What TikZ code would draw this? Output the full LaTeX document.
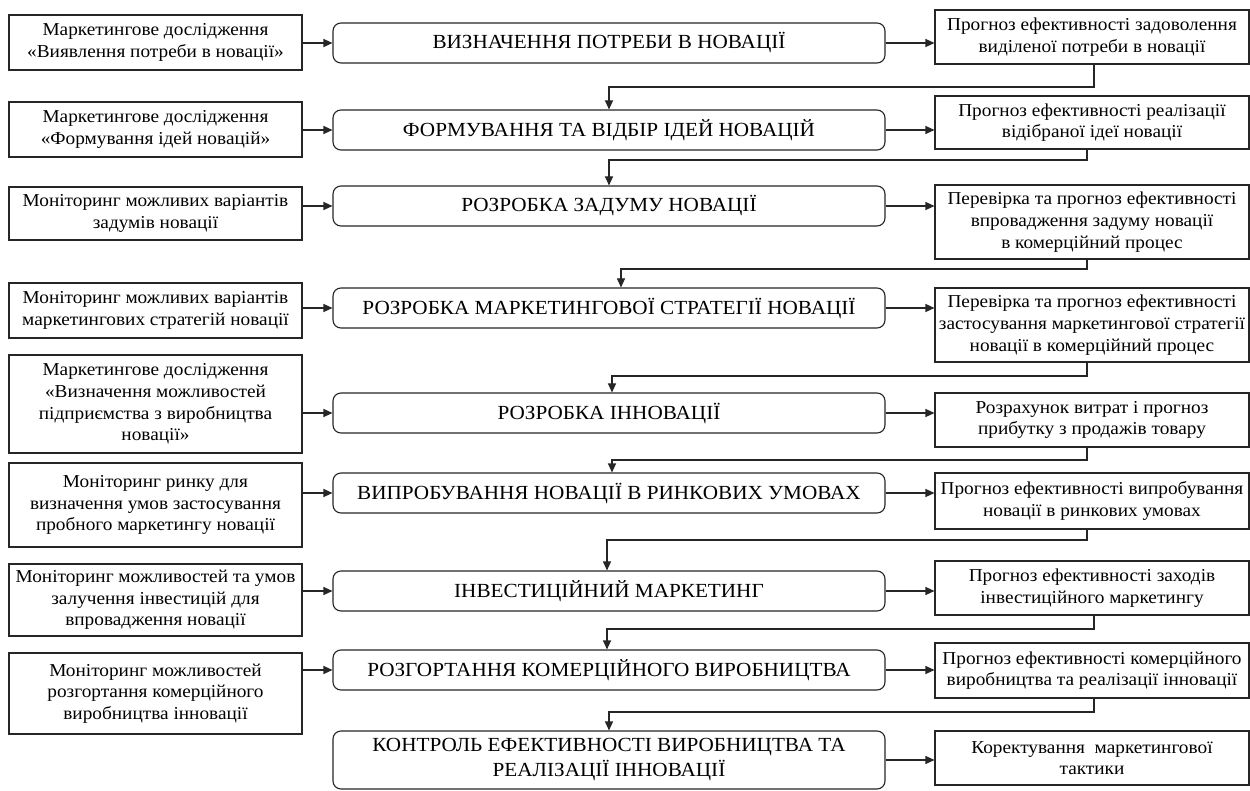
\documentclass[tikz,border=0pt]{standalone}
\usepackage{fontspec}
\setmainfont{Liberation Serif}[FakeStretch=1.06]
\usetikzlibrary{arrows.meta}
\begin{document}
\begin{tikzpicture}[x=1pt,y=-1pt,
  sbox/.style={draw=black!85, line width=1.1pt, align=center, inner sep=2pt,
    font=\fontsize{18.2}{21.7}\selectfont},
  lbox/.style={sbox, minimum width=293pt},
  rbox/.style={sbox, minimum width=314pt},
  cbox/.style={draw=black!85, line width=1.1pt, rounded corners=8pt, align=center,
    minimum width=552pt, minimum height=40pt, inner sep=2pt,
    font=\fontsize{20}{25}\selectfont},
  arr/.style={draw=black!85, line width=1.1pt, -{Triangle[length=9pt,width=8pt]}}]
\useasboundingbox (0,0) rectangle (1250,791);
\fill[white] (0,0) rectangle (1250,791);

% left boxes
\node[lbox, minimum height=55pt] (l1) at (155.5,42.5) {Маркетингове дослідження\\«Виявлення потреби в новації»};
\node[lbox, minimum height=55pt] (l2) at (155.5,129.5) {Маркетингове дослідження\\«Формування ідей новацій»};
\node[lbox, minimum height=53pt] (l3) at (155.5,213.5) {Моніторинг можливих варіантів\\задумів новації};
\node[lbox, minimum height=55pt] (l4) at (155.5,310.5) {Моніторинг можливих варіантів\\маркетингових стратегій новації};
\node[lbox, minimum height=98pt] (l5) at (155.5,404) {Маркетингове дослідження\\«Визначення можливостей\\підприємства з виробництва\\новації»};
\node[lbox, minimum height=84pt] (l6) at (155.5,505) {Моніторинг ринку для\\визначення умов застосування\\пробного маркетингу новації};
\node[lbox, minimum height=72pt] (l7) at (155.5,600) {Моніторинг можливостей та умов\\залучення інвестицій для\\впровадження новації};
\node[lbox, minimum height=81pt] (l8) at (155.5,693.5) {Моніторинг можливостей\\розгортання комерційного\\виробництва інновації};

% centre boxes
\node[cbox] (c1) at (609,43) {ВИЗНАЧЕННЯ ПОТРЕБИ В НОВАЦІЇ};
\node[cbox] (c2) at (609,130) {ФОРМУВАННЯ ТА ВІДБІР ІДЕЙ НОВАЦІЙ};
\node[cbox] (c3) at (609,206) {РОЗРОБКА ЗАДУМУ НОВАЦІЇ};
\node[cbox] (c4) at (609,308) {РОЗРОБКА МАРКЕТИНГОВОЇ СТРАТЕГІЇ НОВАЦІЇ};
\node[cbox] (c5) at (609,413) {РОЗРОБКА ІННОВАЦІЇ};
\node[cbox] (c6) at (609,493) {ВИПРОБУВАННЯ НОВАЦІЇ В РИНКОВИХ УМОВАХ};
\node[cbox] (c7) at (609,591) {ІНВЕСТИЦІЙНИЙ МАРКЕТИНГ};
\node[cbox] (c8) at (609,670) {РОЗГОРТАННЯ КОМЕРЦІЙНОГО ВИРОБНИЦТВА};
\node[cbox, minimum height=58pt] (c9) at (609,760) {КОНТРОЛЬ ЕФЕКТИВНОСТІ ВИРОБНИЦТВА ТА\\РЕАЛІЗАЦІЇ ІННОВАЦІЇ};

% right boxes
\node[rbox, minimum height=54pt] (r1) at (1092,37) {Прогноз ефективності задоволення\\виділеної потреби в новації};
\node[rbox, minimum height=53pt] (r2) at (1092,122.5) {Прогноз ефективності реалізації\\відібраної ідеї новації};
\node[rbox, minimum height=74pt] (r3) at (1092,222) {Перевірка та прогноз ефективності\\впровадження задуму новації\\в комерційний процес};
\node[rbox, minimum height=74pt] (r4) at (1092,325) {Перевірка та прогноз ефективності\\застосування маркетингової стратегії\\новації в комерційний процес};
\node[rbox, minimum height=54pt] (r5) at (1092,420) {Розрахунок витрат і прогноз\\прибутку з продажів товару};
\node[rbox, minimum height=56pt] (r6) at (1092,501) {Прогноз ефективності випробування\\новації в ринкових умовах};
\node[rbox, minimum height=54pt] (r7) at (1092,588) {Прогноз ефективності заходів\\інвестиційного маркетингу};
\node[rbox, minimum height=55pt] (r8) at (1092,670.5) {Прогноз ефективності комерційного\\виробництва та реалізації інновації};
\node[rbox, minimum height=54pt] (r9) at (1092,758) {Коректування\ \ маркетингової\\тактики};

% horizontal arrows
\foreach \i in {1,...,8}{
  \draw[arr] (l\i.east |- c\i.west) -- (c\i.west);
}
\foreach \i in {1,...,9}{
  \draw[arr] (c\i.east) -- (c\i.east -| r\i.west);
}

% feedback connectors
\coordinate (d1) at (1094,87);
\coordinate (d2) at (1087,160);
\coordinate (d3) at (1087,269);
\coordinate (d4) at (1087,376);
\coordinate (d5) at (1087,460);
\coordinate (d6) at (1087,540);
\coordinate (d7) at (1094,629);
\coordinate (d8) at (1094,712);
\draw[arr] (r1.south -| d1) -- (d1) -| (c2.north);
\draw[arr] (r2.south -| d2) -- (d2) -| (c3.north);
\draw[arr] (r3.south -| d3) -- (d3) -| ([xshift=12pt]c4.north);
\draw[arr] (r4.south -| d4) -- (d4) -| ([xshift=3pt]c5.north);
\draw[arr] (r5.south -| d5) -- (d5) -| ([xshift=3pt]c6.north);
\draw[arr] (r6.south -| d6) -- (d6) -| ([xshift=-2pt]c7.north);
\draw[arr] (r7.south -| d7) -- (d7) -| ([xshift=-2pt]c8.north);
\draw[arr] (r8.south -| d8) -- (d8) -| (c9.north);
\end{tikzpicture}
\end{document}
